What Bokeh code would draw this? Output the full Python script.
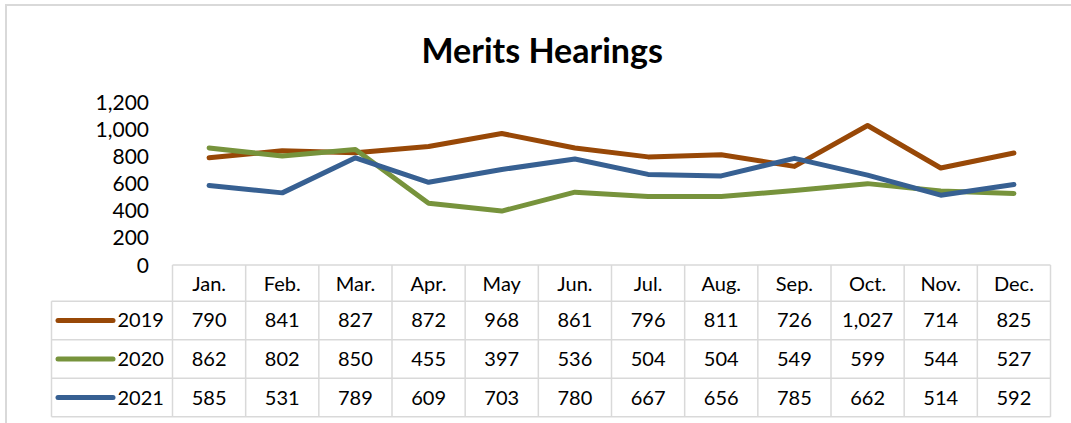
from bokeh.plotting import figure
from bokeh.models import Range1d
from bokeh.core.properties import value
from bokeh.embed import file_html
from bokeh.resources import INLINE

# ---------------- data ----------------
title_text = "Merits Hearings"
months = ["Jan.", "Feb.", "Mar.", "Apr.", "May", "Jun.", "Jul.", "Aug.", "Sep.", "Oct.", "Nov.", "Dec."]
series_names = ["2019", "2020", "2021"]
v2019 = [790, 841, 827, 872, 968, 861, 796, 811, 726, 1027, 714, 825]
v2020 = [862, 802, 850, 455, 397, 536, 504, 504, 549, 599, 544, 527]
v2021 = [585, 531, 789, 609, 703, 780, 667, 656, 785, 662, 514, 592]
series_colors = ["#984807", "#77933C", "#376092"]
y_ticks = [0, 200, 400, 600, 800, 1000, 1200]
y_tick_labels = ["0", "200", "400", "600", "800", "1,000", "1,200"]

# ---------------- layout (page pixels; the page has no body margin) ----------------
W, H = 1071, 423
TOP_BORDER = 80                 # canvas px above the frame (title area)
FRAME_TOP = TOP_BORDER
FRAME_BOTTOM = H
FRAME_LEFT = 0
FRAME_RIGHT = W
COL0 = 172.0                    # left edge of the Jan. column
COLW = (1050.0 - 172.0) / 12    # month column width
LEG0 = 51.0                     # left edge of the legend column
Y_ZERO = 264.5                  # pixel of value 0
KY = (264.5 - 101.5) / 1200.0   # px per unit
HEAD_TOP = 264.5                # top of header row
ROW_TOP = 300.7                 # top of first data row
ROWH = 38.55                    # data row height
HEAD_R = -(ROW_TOP - HEAD_TOP) / ROWH

def xd(px):
    return (px - COL0) / COLW

x_range = Range1d(xd(FRAME_LEFT), xd(FRAME_RIGHT))
y_range = Range1d(-(FRAME_BOTTOM - Y_ZERO) / KY, (Y_ZERO - FRAME_TOP) / KY)

p = figure(width=W, height=H, x_range=x_range, y_range=y_range,
           x_axis_type=None, y_axis_type=None,
           toolbar_location=None, output_backend="svg",
           min_border_left=0, min_border_right=0, min_border_bottom=0,
           min_border_top=TOP_BORDER, title=title_text)
p.outline_line_color = None
p.background_fill_color = None
p.border_fill_color = None
p.styles = {
    "background-color": "white",
    "background-image": "linear-gradient(#D9D9D9, #D9D9D9), linear-gradient(#D9D9D9, #D9D9D9)",
    "background-size": "2px 100%, 100% 2px",
    "background-position": "5px 4px, 5px 4px",
    "background-repeat": "no-repeat",
}

p.title.align = "left"
p.title.text_font = "Lato"
p.title.text_font_style = "bold"
p.title.text_font_size = "34px"
p.title.text_color = "black"
p.title.standoff = 22
p.title.offset = 421

# table range: row units, 0 = top of the first data row, increasing downward
p.extra_y_ranges = {"table": Range1d((FRAME_BOTTOM - ROW_TOP) / ROWH, (FRAME_TOP - ROW_TOP) / ROWH)}

# ---------------- y tick labels ----------------
p.text(x=[xd(148.5)] * len(y_ticks), y=y_ticks, text=y_tick_labels,
       text_font=value("Lato"), text_font_size="21px", text_align="right",
       text_baseline="middle", text_color="black")

# ---------------- lines ----------------
xs_mid = [i + 0.5 for i in range(len(months))]
for name, vals, col in zip(series_names, [v2019, v2020, v2021], series_colors):
    p.line(xs_mid, vals, line_color=col, line_width=5, line_cap="round", line_join="round")

# ---------------- data table ----------------
leg_l = xd(LEG0)
n = len(months)
nr = len(series_names)
gx0, gy0, gx1, gy1 = [], [], [], []
# horizontal lines
gx0.append(0); gx1.append(n); gy0.append(HEAD_R); gy1.append(HEAD_R)
for r in range(0, nr + 1):
    gx0.append(leg_l); gx1.append(n); gy0.append(r); gy1.append(r)
# vertical lines
gx0.append(leg_l); gx1.append(leg_l); gy0.append(0); gy1.append(nr)
for c in range(0, n + 1):
    gx0.append(c); gx1.append(c); gy0.append(HEAD_R); gy1.append(nr)
p.segment(x0=gx0, y0=gy0, x1=gx1, y1=gy1, line_color="#D9D9D9",
          line_width=1.5, y_range_name="table")

# header
p.text(x=xs_mid, y=[HEAD_R / 2] * n, text=months, text_font=value("Lato"), text_font_size="20px",
       text_align="center", text_baseline="middle", text_color="black", y_range_name="table")

# rows
for r, (name, vals, col) in enumerate(zip(series_names, [v2019, v2020, v2021], series_colors)):
    ry = r + 0.5
    p.text(x=xs_mid, y=[ry] * n, text=[f"{v:,}" for v in vals], text_font=value("Lato"),
           text_font_size="20px", text_align="center", text_baseline="middle",
           text_color="black", y_range_name="table")
    p.segment(x0=[xd(57.5)], y0=[ry], x1=[xd(112.5)], y1=[ry], line_color=col, line_width=5,
              line_cap="round", y_range_name="table")
    p.text(x=[xd(117)], y=[ry], text=[name], text_font=value("Lato"), text_font_size="20px",
           text_align="left", text_baseline="middle", text_color="black", y_range_name="table")

open("out.html", "w").write(file_html(p, INLINE))
